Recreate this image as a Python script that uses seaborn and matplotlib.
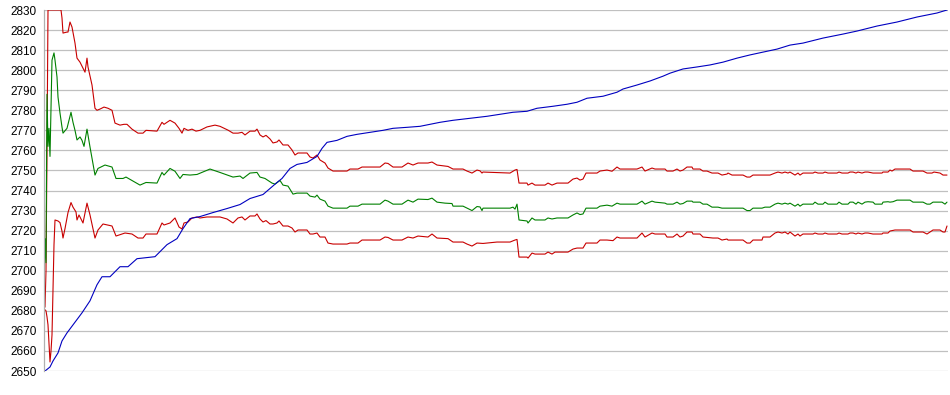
import pandas as pd
import seaborn as sns
import matplotlib
matplotlib.use("Agg")
import matplotlib.pyplot as plt

# rating history with running average and upper / lower band
# x values are game steps, y values are ratings read off the chart

rating_t = [45, 50, 53, 58, 62, 67, 73, 82, 90, 97, 102, 110, 120, 128, 137, 155, 167, 177, 183, 190,
            200, 213, 227, 240, 250, 263, 270, 277, 282, 290, 297, 307, 317, 322, 327, 337, 347, 357,
            370, 383, 393, 407, 420, 440, 453, 470, 487, 500, 513, 527, 537, 553, 567, 577, 587, 603,
            617, 623, 637, 650, 663, 670, 683, 697, 710, 723, 737, 750, 763, 777, 790, 803, 823, 843,
            857, 877, 897, 917, 937, 947]
rating_v = [2650, 2652, 2655, 2659, 2665, 2669, 2673, 2679, 2685, 2693, 2697, 2697, 2702, 2702, 2706,
            2707, 2713, 2716, 2721, 2726, 2727, 2729, 2731, 2733, 2736, 2738, 2741, 2744, 2746, 2751,
            2753, 2754, 2757, 2761, 2764, 2765, 2767, 2768, 2769, 2770, 2771, 2771.5, 2772, 2774, 2775,
            2776, 2777, 2778, 2779, 2779.5, 2781, 2782, 2783, 2784, 2786, 2787, 2789, 2790.6, 2792.6,
            2794.6, 2797, 2798.5, 2800.6, 2801.6, 2802.6, 2804, 2806, 2807.6, 2809, 2810.5, 2812.5,
            2813.5, 2816, 2818, 2819.5, 2822, 2824, 2826.5, 2828.5, 2830]

avg_t = [44, 45, 46, 47, 48, 49, 50, 52, 54, 55, 57, 58, 60, 62, 63, 67, 71, 73, 75, 77, 80, 82, 84,
         87, 90, 95, 98, 105, 112, 116, 123, 126, 132, 140, 146, 157, 162, 164, 170, 175, 180, 183,
         190, 197, 210, 220, 233, 240, 243, 250, 257, 260, 265, 272, 275, 280, 283, 288, 293, 297,
         307, 310, 315, 317, 320, 325, 328, 333, 347, 350, 358, 362, 380, 385, 388, 393, 402, 408,
         413, 418, 428, 432, 437, 445, 452, 453, 463, 467, 472, 477, 480, 482, 483, 510, 513, 515,
         517, 519, 527, 528, 532, 535, 545, 548, 552, 557, 568, 573, 577, 580, 583, 586, 597, 600,
         607, 612, 617, 620, 637, 642, 645, 652, 655, 665, 667, 673, 677, 680, 683, 687, 692, 693,
         700, 703, 707, 712, 718, 722, 743, 747, 750, 753, 762, 765, 770, 775, 778, 782, 785, 788,
         790, 795, 798, 800, 803, 813, 815, 818, 823, 825, 828, 837, 839, 842, 848, 850, 853, 856,
         858, 862, 865, 868, 873, 875, 882, 883, 888, 890, 893, 897, 910, 913, 923, 927, 930, 933,
         942, 945, 947]
avg_v = [2688, 2716, 2704, 2788, 2762, 2771, 2757, 2805, 2808.6, 2805, 2796.6, 2786.6, 2778.6, 2771.6,
         2768.6, 2771, 2779, 2774, 2770, 2765.2, 2766.7, 2765, 2762, 2770.6, 2761.7, 2747.7, 2751,
         2752.7, 2751.7, 2746, 2746, 2746.7, 2745, 2742.7, 2744, 2743.7, 2749, 2747.7, 2751, 2749.6,
         2746, 2748, 2747.7, 2748, 2750.7, 2749, 2746.7, 2747.2, 2746, 2748.7, 2749, 2746.7, 2746,
         2743.7, 2743.2, 2745, 2742.7, 2742.2, 2738.2, 2738.7, 2738.7, 2737.2, 2736.7, 2737.7,
         2735.7, 2734.7, 2732.2, 2731.2, 2731.2, 2732.2, 2732.2, 2733.2, 2733.2, 2735.2, 2734.7,
         2733.2, 2733.2, 2735.2, 2734.2, 2735.7, 2735.5, 2736.2, 2734.2, 2733.7, 2733.5, 2732.2,
         2732.2, 2731.2, 2730, 2732, 2731.8, 2730, 2731.2, 2731.2, 2731.7, 2730.7, 2733.2, 2725.3,
         2724.8, 2723.8, 2726.3, 2725.3, 2725.3, 2726.3, 2725.8, 2726.3, 2726.3, 2727.8, 2728.8,
         2728, 2728.3, 2731.2, 2731.2, 2732.2, 2732.7, 2732.2, 2733.7, 2733.2, 2733.2, 2734.7,
         2733.2, 2734.7, 2734.2, 2733.7, 2733.2, 2733.2, 2734.2, 2733.2, 2733.5, 2734.7, 2734.7,
         2734.2, 2734.2, 2733.2, 2733.2, 2731.7, 2731.7, 2731.2, 2731.2, 2730, 2730, 2731.2,
         2731.2, 2731.7, 2731.7, 2733.2, 2733.7, 2733.2, 2733.7, 2733.2, 2733.7, 2732.2, 2733.2,
         2732.2, 2733.2, 2733.2, 2734.2, 2733.2, 2733.2, 2734.2, 2733.2, 2733.2, 2734.2, 2733.2,
         2733.2, 2734.2, 2734.2, 2733.2, 2734.2, 2733.2, 2734.2, 2734.4, 2734.2, 2733.2, 2733.2,
         2734.2, 2734.4, 2734.2, 2734.4, 2735.2, 2735.2, 2734.2, 2734.2, 2733.2, 2733.2, 2734.2,
         2734.2, 2733.2, 2734.2]

upper_t = [44, 45, 46, 47, 48, 61, 62, 63, 67, 68, 70, 72, 75, 77, 80, 83, 85, 87, 88, 92, 95, 97,
           100, 104, 108, 112, 115, 120, 124, 127, 132, 138, 143, 146, 157, 162, 164, 170, 175, 179,
           182, 184, 188, 192, 196, 200, 207, 215, 220, 228, 233, 238, 242, 245, 250, 255, 257, 260,
           263, 266, 270, 273, 277, 279, 283, 288, 292, 295, 298, 307, 310, 313, 317, 320, 325, 328,
           333, 347, 350, 358, 362, 380, 385, 388, 393, 402, 408, 413, 418, 428, 432, 437, 445, 448,
           453, 463, 467, 472, 477, 480, 482, 483, 510, 515, 517, 519, 527, 528, 532, 535, 545, 548,
           552, 557, 568, 573, 577, 580, 583, 586, 597, 600, 607, 612, 617, 620, 637, 642, 645, 652,
           655, 665, 667, 673, 677, 680, 683, 687, 692, 693, 700, 703, 707, 712, 718, 722, 727, 728,
           732, 743, 747, 750, 753, 770, 775, 778, 782, 785, 788, 790, 795, 798, 800, 803, 813, 815,
           818, 823, 825, 828, 837, 839, 842, 848, 850, 853, 856, 858, 862, 865, 868, 873, 882, 883,
           888, 890, 892, 895, 910, 913, 923, 927, 932, 934, 940, 943, 947]
upper_v = [2681, 2682, 2700, 2760, 2830, 2830, 2826, 2818.5, 2819, 2819, 2824, 2821.5, 2813.5, 2806,
           2804, 2801, 2799, 2806, 2801.6, 2792.6, 2781, 2780, 2780.6, 2781.6, 2781, 2780, 2773.6,
           2772.6, 2773, 2773, 2770.6, 2768.6, 2768.6, 2770, 2769.6, 2774, 2773, 2775, 2773.6, 2771,
           2768.6, 2771, 2770, 2770.6, 2769.6, 2770, 2771.7, 2772.6, 2772, 2770.1, 2768.6, 2768.6,
           2769, 2767.7, 2769.6, 2769.6, 2770.6, 2767.7, 2766.7, 2767.5, 2765.7, 2763.7, 2764.2,
           2765.2, 2762.7, 2762.7, 2760.2, 2757.7, 2758.7, 2758.7, 2756.7, 2756.2, 2757.7, 2755.2,
           2753.7, 2751.2, 2749.7, 2749.7, 2750.7, 2750.7, 2751.7, 2751.7, 2753.7, 2753.5, 2751.7,
           2751.7, 2753.7, 2752.7, 2753.7, 2753.7, 2754.2, 2752.7, 2752.2, 2752, 2750.7, 2750.7,
           2749.7, 2748.7, 2750.2, 2749.8, 2748.7, 2749.2, 2748.7, 2750.2, 2750.5, 2743.7, 2743.7,
           2742.7, 2743.7, 2742.7, 2742.7, 2743.7, 2742.7, 2743.7, 2743.7, 2745.7, 2746.2, 2745.2,
           2745.7, 2748.7, 2748.7, 2749.7, 2750.2, 2749.6, 2751.7, 2750.7, 2750.7, 2751.7, 2749.7,
           2751.2, 2750.7, 2750.7, 2749.7, 2749.7, 2750.7, 2749.7, 2750.2, 2751.7, 2751.7, 2750.7,
           2750.7, 2749.7, 2749.7, 2748.7, 2748.7, 2747.7, 2748.2, 2748.7, 2747.7, 2747.7, 2746.7,
           2746.7, 2747.7, 2747.7, 2748.7, 2749.2, 2748.7, 2749.2, 2748.7, 2749.2, 2747.7, 2748.7,
           2747.7, 2748.7, 2748.7, 2749.2, 2748.7, 2748.7, 2749.2, 2748.7, 2748.7, 2749.2, 2748.7,
           2748.7, 2749.2, 2749.2, 2748.7, 2749.2, 2748.7, 2749.2, 2749.2, 2748.7, 2748.7, 2749.2,
           2749.2, 2750.2, 2749.7, 2750.7, 2750.7, 2749.7, 2749.7, 2748.7, 2748.7, 2749.2, 2748.7,
           2747.7, 2747.7]

lower_t = [44, 46, 47, 48, 49, 50, 51, 52, 53, 54, 55, 58, 60, 62, 63, 65, 68, 71, 73, 76, 77, 79, 83,
           87, 90, 95, 98, 103, 112, 116, 125, 132, 138, 143, 146, 157, 162, 164, 170, 175, 179, 182,
           184, 188, 192, 197, 200, 207, 220, 227, 233, 238, 242, 245, 250, 255, 257, 260, 263, 266,
           270, 273, 277, 279, 283, 288, 292, 295, 298, 307, 310, 313, 317, 320, 325, 328, 333, 347,
           350, 358, 362, 380, 385, 388, 393, 402, 408, 413, 418, 428, 432, 437, 448, 453, 463, 467,
           472, 477, 483, 497, 510, 515, 517, 519, 527, 528, 532, 535, 545, 548, 552, 555, 568, 573,
           577, 583, 586, 597, 600, 607, 613, 617, 620, 637, 642, 645, 652, 655, 665, 667, 673, 677,
           680, 683, 687, 692, 693, 700, 703, 713, 718, 722, 727, 728, 743, 747, 750, 753, 762, 763,
           770, 775, 778, 782, 785, 788, 790, 795, 798, 800, 803, 813, 815, 818, 823, 825, 828, 837,
           839, 842, 848, 850, 853, 856, 858, 862, 865, 868, 873, 882, 883, 888, 890, 895, 910, 913,
           923, 927, 933, 940, 943, 945, 947]
lower_v = [2681, 2680, 2677, 2673, 2664, 2654.5, 2660, 2668, 2690, 2713, 2725.3, 2724.8, 2724, 2719.7,
           2716.3, 2721, 2729, 2734, 2731.7, 2729.3, 2725.3, 2727.8, 2723.8, 2733.7, 2727.8, 2716.3,
           2720.3, 2723.3, 2722.3, 2717.3, 2718.8, 2718.3, 2716.3, 2716.3, 2718.3, 2718.3, 2723.8,
           2722.8, 2723.8, 2726.3, 2721.8, 2720.8, 2723.8, 2724.3, 2726.3, 2726.8, 2726.3, 2726.8,
           2726.8, 2725.8, 2723.8, 2726.3, 2726.8, 2725.3, 2727.3, 2727.3, 2728.3, 2725.8, 2724.3,
           2725, 2723.3, 2723.3, 2723.8, 2724.8, 2722.3, 2722.3, 2721.3, 2719.3, 2720.3, 2720.3,
           2718.3, 2718.3, 2718.8, 2716.8, 2716.8, 2713.8, 2713.3, 2713.3, 2713.8, 2713.8, 2715.3,
           2715.3, 2716.8, 2716.6, 2715.3, 2715.3, 2716.8, 2716.3, 2717.3, 2716.8, 2718.3, 2716.3,
           2716, 2714.3, 2714.3, 2713.3, 2712.3, 2713.8, 2713.6, 2714.3, 2714.3, 2715.3, 2715.6,
           2706.8, 2706.8, 2706.3, 2708.8, 2708.3, 2708.3, 2709.3, 2708.3, 2709.3, 2709.3, 2710.8,
           2711.3, 2711.3, 2713.8, 2713.8, 2715.3, 2715.3, 2715, 2716.8, 2716.3, 2716.3, 2718.8,
           2716.8, 2718.8, 2718.3, 2718.3, 2716.8, 2716.8, 2718.3, 2716.8, 2717.3, 2719.3, 2719.3,
           2718.3, 2718.3, 2716.8, 2716.3, 2716.3, 2715.3, 2715.8, 2715.3, 2715.3, 2713.8, 2713.8,
           2715.3, 2715.3, 2716.8, 2716.8, 2718.8, 2719.3, 2718.8, 2719.3, 2718.3, 2719.3, 2717.3,
           2718.3, 2717.3, 2718.3, 2718.3, 2718.8, 2718.3, 2718.3, 2718.8, 2718.3, 2718.3, 2718.8,
           2718.3, 2718.3, 2718.8, 2718.8, 2718.3, 2718.8, 2718.3, 2718.8, 2718.8, 2718.3, 2718.3,
           2718.8, 2718.8, 2719.8, 2720.3, 2720.3, 2719.3, 2719.3, 2718.3, 2720.3, 2720.3, 2719.3,
           2719.3, 2722.3]

y_ticks = list(range(2650, 2831, 10))

sns.set_style("white")
plt.rcParams['font.family'] = ['Liberation Sans', 'DejaVu Sans']

fig = plt.figure(figsize=(9.5, 3.95), dpi=100)
ax = fig.add_axes([44 / 950, 1 - 371 / 395, 904 / 950, 361 / 395])

# thin 1px lines like the original chart
lw = 0.8
sns.lineplot(x=upper_t, y=upper_v, ax=ax, color="#c80000", linewidth=lw, estimator=None, sort=False)
sns.lineplot(x=lower_t, y=lower_v, ax=ax, color="#c80000", linewidth=lw, estimator=None, sort=False)
sns.lineplot(x=avg_t, y=avg_v, ax=ax, color="#008000", linewidth=lw, estimator=None, sort=False)
sns.lineplot(x=rating_t, y=rating_v, ax=ax, color="#0000c0", linewidth=lw, estimator=None, sort=False)

ax.set_xlim(44, 948)
ax.set_ylim(2650, 2830)
ax.set_yticks(y_ticks)
ax.set_xticks([])
ax.set_xlabel("")
ax.set_ylabel("")
ax.yaxis.grid(True, color="#c0c0c0", linewidth=0.9)
ax.set_axisbelow(True)
ax.tick_params(axis='y', length=0, pad=5.5, labelsize=8.5, labelcolor="black")
for side in ["top", "right", "bottom"]:
    ax.spines[side].set_visible(False)
ax.spines["left"].set_color("#b0b0b0")
ax.spines["left"].set_linewidth(0.9)

fig.savefig("out.png", dpi=100)
